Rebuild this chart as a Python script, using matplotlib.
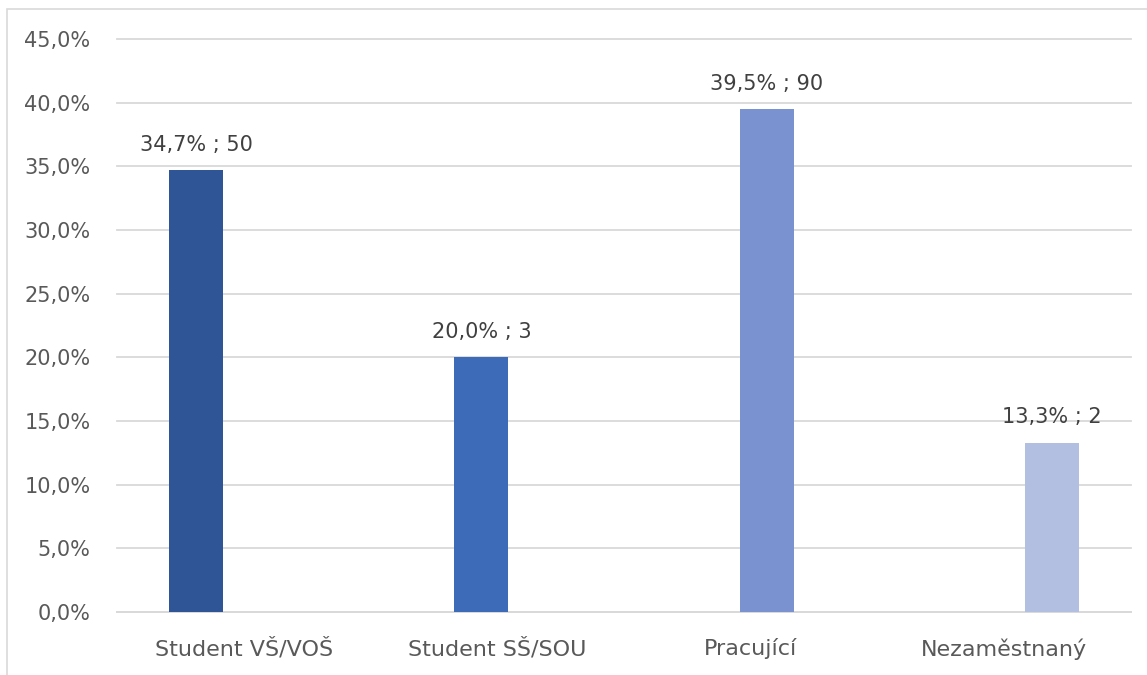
import matplotlib
matplotlib.use("Agg")
import matplotlib.pyplot as plt
from matplotlib.patches import Rectangle
from matplotlib.ticker import FuncFormatter
import numpy as np

# Respondent status: share (%) and number of respondents
categories = ["Student VŠ/VOŠ", "Student SŠ/SOU", "Pracující", "Nezaměstnaný"]
shares = [34.7, 20.0, 39.5, 13.3]
counts = [50, 3, 90, 2]
y_ticks = [0, 5, 10, 15, 20, 25, 30, 35, 40, 45]

colors = ["#2F5597", "#3E6BB8", "#7A93D0", "#B3BFE0"]
grid_color = "#D9D9D9"
tick_color = "#595959"
label_color = "#404040"

plt.rcParams["font.family"] = ["DejaVu Sans"]

W, H = 1147, 675
fig = plt.figure(figsize=(W / 100, H / 100), dpi=100)
fig.patch.set_facecolor("white")

# chart area frame
fig.add_artist(Rectangle((7 / W, -0.1), 1.2, (H - 9) / H + 0.1,
                         transform=fig.transFigure, fill=False,
                         edgecolor=grid_color, linewidth=1.2))

ax = fig.add_axes([117 / W, 63 / H, (1131 - 117) / W, (612 - 39) / H])

n = len(categories)
x = np.arange(n)
step = 0.125
width = 0.213
for i, (val, cnt) in enumerate(zip(shares, counts)):
    xi = x[i] + (i - (n - 1) / 2) * step
    ax.bar(xi, val, width=width, color=colors[i], zorder=3)
    ax.annotate(f"{val:.1f}".replace(".", ",") + f"% ; {cnt}",
                xy=(xi, val), xytext=(0, 11), textcoords="offset points",
                ha="center", va="bottom", fontsize=15, color=label_color)

ax.set_xlim(-0.5, n - 0.5)
ax.set_ylim(0, 45)
ax.set_yticks(y_ticks)
ax.yaxis.set_major_formatter(FuncFormatter(lambda v, p: f"{v:.1f}".replace(".", ",") + "%"))
ax.set_xticks(x)
ax.set_xticklabels(categories)

ax.grid(axis="y", color=grid_color, linewidth=1.3, zorder=0)
for gl in ax.get_ygridlines():
    gl.set_clip_on(False)
ax.set_axisbelow(True)
for side in ("top", "right", "left"):
    ax.spines[side].set_visible(False)
ax.spines["bottom"].set_color(grid_color)
ax.spines["bottom"].set_linewidth(1.3)
ax.tick_params(axis="both", length=0, colors=tick_color)
ax.tick_params(axis="y", pad=19, labelsize=15)
ax.tick_params(axis="x", pad=19, labelsize=16)

fig.savefig("out.png", dpi=100, facecolor="white")
